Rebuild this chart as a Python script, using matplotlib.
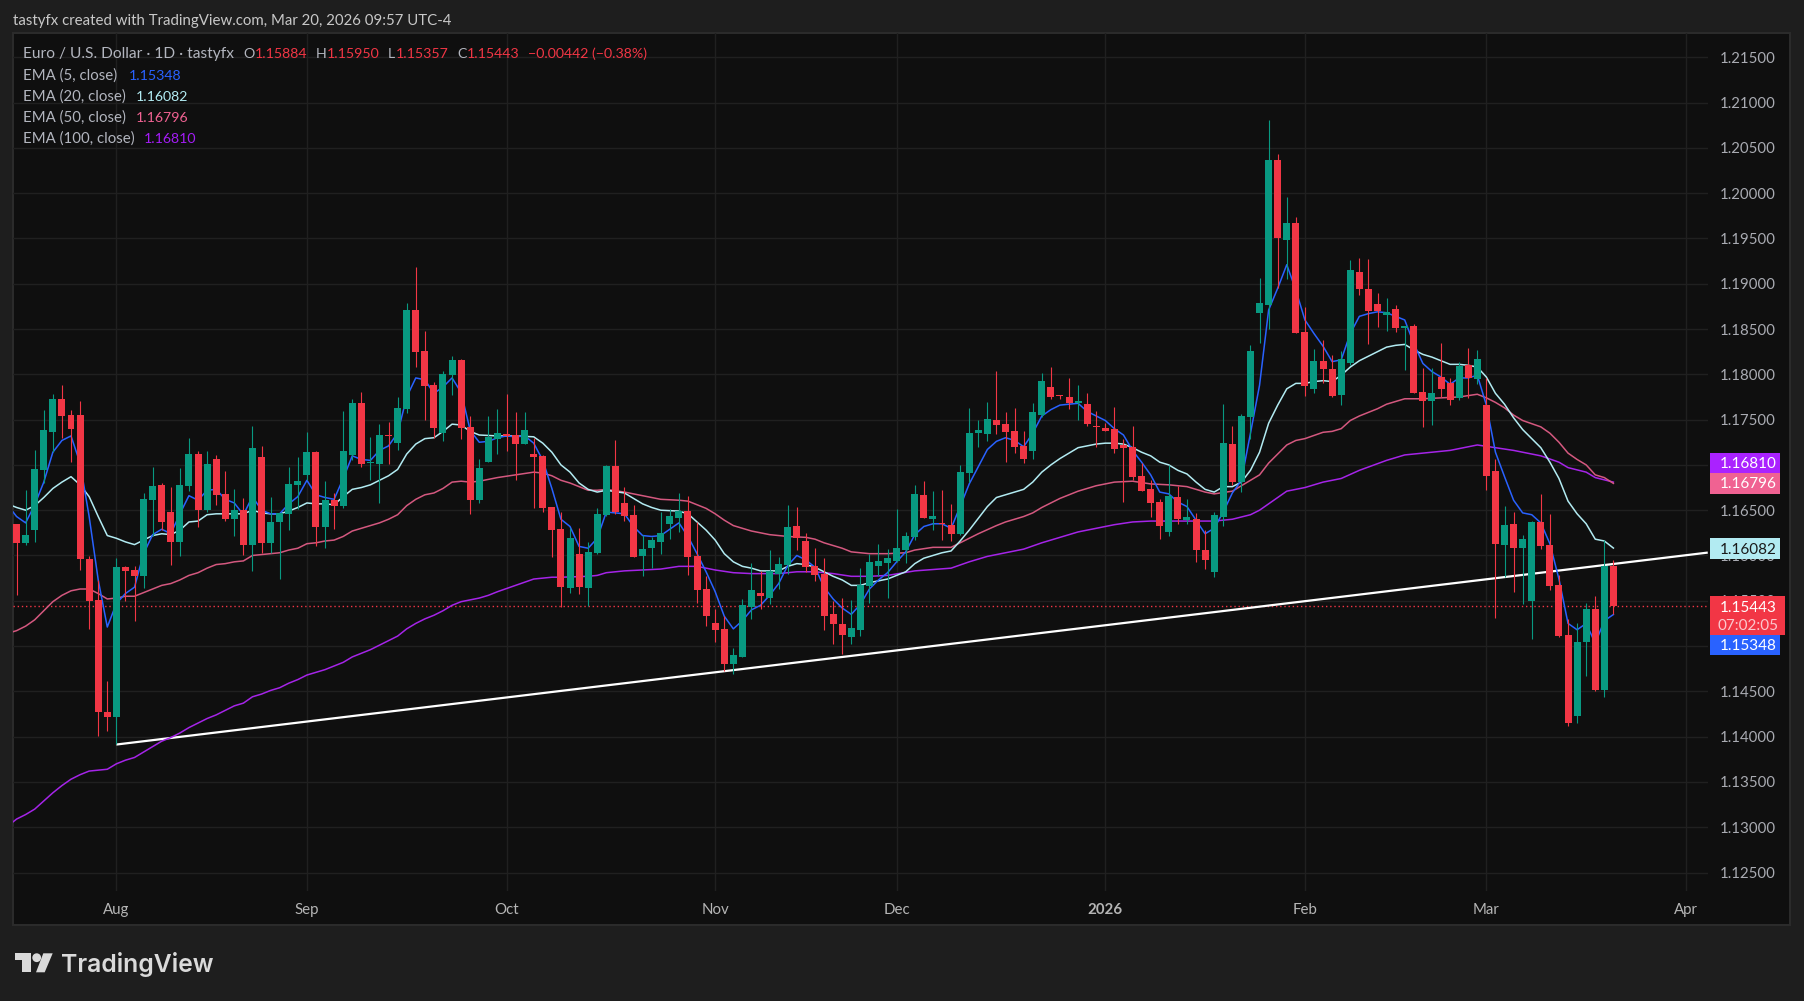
import numpy as np
import matplotlib
matplotlib.use("Agg")
import matplotlib.pyplot as plt
from matplotlib.patches import Rectangle, Polygon, Circle

W, H = 1804, 1001

BG_OUT = "#1E1E1E"
BG = "#0F0F0F"
GRID = "#202020"
UP = "#089981"
DOWN = "#F23645"
BLUE = "#2962FF"
CYAN = "#B2EBF2"
PINK = "#F06292"
PINK_LINE = "#D4587F"
PURPLE = "#AA22FF"
PURPLE_LINE = "#A524E8"
TEXT = "#B2B5BE"

opens = [
    1.16346, 1.16135, 1.16279, 1.16943, 1.17363, 1.17728, 1.17551, 1.17551, 1.15959, 1.15505,
    1.14267, 1.14212, 1.15870, 1.15837, 1.15771, 1.16611, 1.16777, 1.16478, 1.16147, 1.16766,
    1.17120, 1.16500, 1.17064, 1.16677, 1.16401, 1.16500, 1.16114, 1.17086, 1.16135, 1.16368,
    1.16456, 1.16777, 1.16887, 1.17142, 1.16312, 1.16611, 1.16545, 1.17108, 1.17683, 1.17020,
    1.17009, 1.17330, 1.17241, 1.17617, 1.18711, 1.18258, 1.17882, 1.17352, 1.17993, 1.18159,
    1.17418, 1.16611, 1.17031, 1.17285, 1.17341, 1.17330, 1.17230, 1.17120, 1.17097, 1.16534,
    1.16290, 1.15638, 1.16014, 1.15638, 1.16025, 1.16445, 1.16987, 1.16578, 1.16445, 1.15992,
    1.16080, 1.16147, 1.16346, 1.16412, 1.16489, 1.15992, 1.15627, 1.15251, 1.15185, 1.14798,
    1.14875, 1.15428, 1.15583, 1.15528, 1.15793, 1.15892, 1.16324, 1.16158, 1.15881, 1.15793,
    1.15351, 1.15240, 1.15096, 1.15174, 1.15660, 1.15881, 1.15915, 1.15937, 1.16058, 1.16202,
    1.16666, 1.16401, 1.16357, 1.16335, 1.16235, 1.16909, 1.17352, 1.17341, 1.17495, 1.17451,
    1.17374, 1.17208, 1.17153, 1.17551, 1.17860, 1.17772, 1.17750, 1.17683, 1.17672, 1.17429,
    1.17407, 1.17396, 1.17219, 1.17197, 1.16876, 1.16733, 1.16589, 1.16257, 1.16644, 1.16390,
    1.16401, 1.16058, 1.15815, 1.16423, 1.17230, 1.16810, 1.17529, 1.18678, 1.18767, 1.20370,
    1.19485, 1.19673, 1.18468, 1.17838, 1.18148, 1.18059, 1.17772, 1.18126, 1.19132, 1.18944,
    1.18778, 1.18656, 1.18723, 1.18512, 1.18535, 1.17805, 1.17705, 1.17971, 1.17904, 1.17739,
    1.18103, 1.17949, 1.17661, 1.16932, 1.16114, 1.16346, 1.16080, 1.15494, 1.16368, 1.16114,
    1.15671, 1.15119, 1.14223, 1.15041, 1.15406, 1.14511, 1.15884,
]
highs = [
    1.16353, 1.16722, 1.17164, 1.17602, 1.17783, 1.17882, 1.17606, 1.17705, 1.15992, 1.15727,
    1.14610, 1.15970, 1.15881, 1.15881, 1.16688, 1.16976, 1.16799, 1.16755, 1.16965, 1.17296,
    1.17153, 1.17153, 1.17108, 1.16932, 1.16733, 1.16633, 1.17429, 1.17208, 1.16644, 1.16464,
    1.16976, 1.17086, 1.17363, 1.17153, 1.16821, 1.16688, 1.17595, 1.17728, 1.17805, 1.17307,
    1.17451, 1.17473, 1.17750, 1.18789, 1.19187, 1.18479, 1.17915, 1.18037, 1.18203, 1.18170,
    1.17540, 1.17064, 1.17540, 1.17617, 1.17783, 1.17584, 1.17584, 1.17296, 1.17108, 1.16534,
    1.16478, 1.16301, 1.16301, 1.16147, 1.16523, 1.16998, 1.17274, 1.16755, 1.16556, 1.16224,
    1.16202, 1.16478, 1.16511, 1.16688, 1.16655, 1.16368, 1.15771, 1.15406, 1.15329, 1.14975,
    1.15517, 1.15915, 1.15826, 1.16058, 1.15981, 1.16556, 1.16534, 1.16246, 1.16080, 1.15970,
    1.15494, 1.15528, 1.15505, 1.15859, 1.16014, 1.16125, 1.16069, 1.16511, 1.16257, 1.16777,
    1.16821, 1.16710, 1.16722, 1.16567, 1.16998, 1.17628, 1.17495, 1.17694, 1.18037, 1.17584,
    1.17628, 1.17374, 1.17683, 1.18015, 1.18081, 1.17772, 1.17960, 1.17882, 1.17794, 1.17595,
    1.17462, 1.17639, 1.17285, 1.17429, 1.17020, 1.16832, 1.16622, 1.16998, 1.16766, 1.16622,
    1.16467, 1.16279, 1.16478, 1.17672, 1.17429, 1.17562, 1.18325, 1.19065, 1.20812, 1.20436,
    1.19961, 1.19740, 1.18745, 1.18280, 1.18380, 1.18214, 1.18258, 1.19264, 1.19286, 1.19275,
    1.18899, 1.18844, 1.18767, 1.18535, 1.18557, 1.18070, 1.18070, 1.18347, 1.17960, 1.18137,
    1.18291, 1.18269, 1.17963, 1.17064, 1.16545, 1.16478, 1.16224, 1.16379, 1.16677, 1.16456,
    1.15782, 1.15295, 1.15251, 1.15472, 1.15550, 1.16169, 1.15950,
]
lows = [
    1.15561, 1.16114, 1.16147, 1.16795, 1.17145, 1.17293, 1.17031, 1.15837, 1.15185, 1.14002,
    1.14057, 1.13921, 1.15494, 1.15273, 1.15638, 1.16213, 1.16279, 1.15892, 1.15992, 1.16710,
    1.16312, 1.16478, 1.16556, 1.16379, 1.16213, 1.16003, 1.15826, 1.16025, 1.16025, 1.15738,
    1.16279, 1.16511, 1.16832, 1.16102, 1.16080, 1.16290, 1.16523, 1.17053, 1.16976, 1.16832,
    1.16578, 1.17009, 1.17164, 1.17573, 1.18081, 1.17495, 1.17296, 1.17263, 1.17772, 1.17285,
    1.16456, 1.16578, 1.17031, 1.17120, 1.17153, 1.16832, 1.17230, 1.16523, 1.16478, 1.15981,
    1.15428, 1.15583, 1.15572, 1.15439, 1.16014, 1.16434, 1.16456, 1.16379, 1.15981, 1.15771,
    1.15859, 1.16014, 1.16180, 1.16257, 1.15782, 1.15472, 1.15218, 1.15041, 1.14721, 1.14687,
    1.14875, 1.15295, 1.15406, 1.15461, 1.15627, 1.15793, 1.16058, 1.15815, 1.15716, 1.15174,
    1.15019, 1.14909, 1.15019, 1.15108, 1.15472, 1.15771, 1.15528, 1.15926, 1.15915, 1.16169,
    1.16412, 1.16279, 1.16169, 1.16158, 1.16224, 1.16810, 1.17197, 1.17263, 1.17341, 1.17031,
    1.17131, 1.17020, 1.17064, 1.17529, 1.17728, 1.17728, 1.17617, 1.17495, 1.17429, 1.17197,
    1.17374, 1.17131, 1.16589, 1.16832, 1.16710, 1.16423, 1.16180, 1.16213, 1.16346, 1.16346,
    1.15926, 1.15848, 1.15760, 1.16324, 1.16777, 1.16699, 1.17285, 1.18347, 1.18501, 1.18955,
    1.19054, 1.18457, 1.17761, 1.17794, 1.17904, 1.17750, 1.17661, 1.18103, 1.18877, 1.18336,
    1.18524, 1.18479, 1.18468, 1.18048, 1.17794, 1.17418, 1.17440, 1.17750, 1.17661, 1.17716,
    1.17739, 1.17893, 1.16722, 1.15307, 1.15760, 1.15594, 1.15461, 1.15074, 1.16069, 1.15616,
    1.15096, 1.14113, 1.14146, 1.14665, 1.14499, 1.14433, 1.15357,
]
closes = [
    1.16135, 1.16224, 1.16954, 1.17385, 1.17728, 1.17540, 1.17396, 1.15959, 1.15494, 1.14267,
    1.14212, 1.15870, 1.15826, 1.15771, 1.16622, 1.16766, 1.16368, 1.16147, 1.16777, 1.17120,
    1.16500, 1.17009, 1.16666, 1.16401, 1.16500, 1.16114, 1.17186, 1.16135, 1.16368, 1.16464,
    1.16788, 1.16821, 1.17142, 1.16312, 1.16611, 1.16545, 1.17153, 1.17683, 1.17009, 1.17031,
    1.17330, 1.17319, 1.17628, 1.18711, 1.18247, 1.17871, 1.17407, 1.18004, 1.18159, 1.17407,
    1.16611, 1.16965, 1.17307, 1.17352, 1.17319, 1.17230, 1.17385, 1.17086, 1.16523, 1.16279,
    1.15649, 1.16191, 1.15649, 1.16036, 1.16456, 1.16987, 1.16478, 1.16434, 1.15981, 1.16069,
    1.16169, 1.16246, 1.16434, 1.16489, 1.15981, 1.15616, 1.15329, 1.15174, 1.14798, 1.14897,
    1.15450, 1.15616, 1.15550, 1.15826, 1.15903, 1.16312, 1.16191, 1.15870, 1.15782, 1.15329,
    1.15240, 1.15119, 1.15196, 1.15671, 1.15926, 1.15937, 1.15970, 1.16080, 1.16213, 1.16677,
    1.16412, 1.16434, 1.16346, 1.16235, 1.16921, 1.17352, 1.17385, 1.17506, 1.17440, 1.17363,
    1.17197, 1.17064, 1.17584, 1.17927, 1.17750, 1.17761, 1.17683, 1.17705, 1.17451, 1.17418,
    1.17374, 1.17175, 1.17186, 1.16865, 1.16710, 1.16578, 1.16324, 1.16655, 1.16401, 1.16423,
    1.16058, 1.15948, 1.16445, 1.17241, 1.16810, 1.17540, 1.18258, 1.18789, 1.20370, 1.19507,
    1.19673, 1.18457, 1.17871, 1.18148, 1.18059, 1.17761, 1.18170, 1.19154, 1.18944, 1.18700,
    1.18700, 1.18689, 1.18512, 1.18535, 1.17794, 1.17705, 1.17794, 1.17838, 1.17716, 1.18092,
    1.17960, 1.18170, 1.16876, 1.16125, 1.16335, 1.16080, 1.16180, 1.16368, 1.16102, 1.15660,
    1.15108, 1.14146, 1.15041, 1.15406, 1.14511, 1.15881, 1.15443,
]

# first candle sits 11 sessions before the Aug tick
first_idx = -11

ema5 = [
    1.1656, 1.1643, 1.1636, 1.1656, 1.1681, 1.1714, 1.1727, 1.1732, 1.1702, 1.1643,
    1.1573, 1.1521, 1.1547, 1.1558, 1.1565, 1.1602, 1.1623, 1.1629, 1.1624, 1.1646,
    1.1666, 1.1661, 1.1672, 1.1673, 1.1662, 1.1658, 1.1645, 1.1665, 1.1650, 1.1646,
    1.1646, 1.1657, 1.1665, 1.1683, 1.1667, 1.1664, 1.1662, 1.1685, 1.1710, 1.1706,
    1.1705, 1.1716, 1.1721, 1.1735, 1.1775, 1.1796, 1.1794, 1.1779, 1.1786, 1.1796,
    1.1780, 1.1738, 1.1725, 1.1726, 1.1730, 1.1732, 1.1731, 1.1732, 1.1724, 1.1705,
    1.1674, 1.1640, 1.1632, 1.1610, 1.1608, 1.1619, 1.1648, 1.1647, 1.1646, 1.1632,
    1.1622, 1.1621, 1.1622, 1.1629, 1.1636, 1.1621, 1.1602, 1.1582, 1.1560, 1.1533,
    1.1519, 1.1528, 1.1540, 1.1545, 1.1556, 1.1569, 1.1589, 1.1600, 1.1595, 1.1587,
    1.1565, 1.1552, 1.1542, 1.1535, 1.1546, 1.1563, 1.1573, 1.1581, 1.1593, 1.1604,
    1.1623, 1.1632, 1.1635, 1.1635, 1.1630, 1.1654, 1.1679, 1.1698, 1.1717, 1.1726,
    1.1730, 1.1727, 1.1720, 1.1735, 1.1754, 1.1761, 1.1766, 1.1767, 1.1768, 1.1759,
    1.1754, 1.1749, 1.1740, 1.1733, 1.1716, 1.1703, 1.1689, 1.1670, 1.1668, 1.1659,
    1.1654, 1.1639, 1.1624, 1.1630, 1.1648, 1.1669, 1.1683, 1.1735, 1.1788, 1.1871,
    1.1895, 1.1921, 1.1893, 1.1860, 1.1845, 1.1831, 1.1814, 1.1816, 1.1845, 1.1864,
    1.1867, 1.1869, 1.1868, 1.1864, 1.1860, 1.1834, 1.1812, 1.1803, 1.1797, 1.1789,
    1.1796, 1.1796, 1.1799, 1.1766, 1.1714, 1.1687, 1.1661, 1.1647, 1.1645, 1.1636,
    1.1613, 1.1574, 1.1525, 1.1518, 1.1525, 1.1503, 1.1528, 1.15348,
]
ema5_idx = list(range(-12, 166))

ema20_idx = [
    -12, -11, -10, -9, -8, -7, -6, -5, -4, -3, -2, -1, 0, 1, 2, 3, 4, 5, 6, 7, 8, 9, 10, 11, 12, 13, 14, 15, 16, 17,
    18, 19, 20, 21, 22, 23, 24, 25, 26, 27, 28, 29, 30, 31, 32, 33, 34, 35, 36, 37, 38, 39, 40, 42, 44, 46, 47, 48,
    49, 50, 51, 52, 53, 54, 56, 57, 58, 59, 60, 62, 63, 64, 65, 66, 67, 68, 69, 70, 71, 73, 74, 75, 76, 77, 78, 79,
    80, 81, 82, 83, 84, 85, 86, 87, 88, 89, 90, 91, 92, 93, 94, 95, 96, 97, 99, 100, 101, 102, 103, 104, 105, 106,
    107, 108, 109, 110, 111, 112, 113, 114, 115, 116, 117, 118, 119, 120, 121, 122, 123, 124, 125, 126, 127, 128,
    129, 130, 131, 132, 133, 134, 135, 136, 137, 138, 139, 140, 141, 142, 143, 144, 145, 146, 147, 148, 149, 150,
    151, 152, 153, 154, 155, 156, 157, 158, 159, 160, 161, 162, 163, 164, 165,
]
ema20 = [
    1.1657, 1.1653, 1.1650, 1.1655, 1.1664, 1.1674, 1.1681, 1.1687, 1.1678, 1.1665, 1.1643, 1.1622, 1.1619, 1.1615,
    1.1612, 1.1617, 1.1622, 1.1624, 1.1623, 1.1628, 1.1637, 1.1638, 1.1645, 1.1646, 1.1646, 1.1646, 1.1646, 1.1650,
    1.1647, 1.1646, 1.1646, 1.1649, 1.1653, 1.1658, 1.1657, 1.1657, 1.1656, 1.1665, 1.1673, 1.1675, 1.1678, 1.1683,
    1.1688, 1.1695, 1.1712, 1.1723, 1.1729, 1.1730, 1.1737, 1.1745, 1.1744, 1.1737, 1.1733, 1.1732, 1.1732, 1.1731,
    1.1724, 1.1714, 1.1700, 1.1692, 1.1680, 1.1673, 1.1670, 1.1672, 1.1669, 1.1663, 1.1657, 1.1653, 1.1650, 1.1649,
    1.1646, 1.1637, 1.1628, 1.1617, 1.1602, 1.1593, 1.1588, 1.1586, 1.1583, 1.1583, 1.1588, 1.1591, 1.1590, 1.1587,
    1.1582, 1.1577, 1.1573, 1.1567, 1.1567, 1.1570, 1.1572, 1.1574, 1.1578, 1.1582, 1.1591, 1.1597, 1.1600, 1.1603,
    1.1605, 1.1616, 1.1628, 1.1641, 1.1654, 1.1664, 1.1670, 1.1673, 1.1681, 1.1692, 1.1700, 1.1707, 1.1713, 1.1719,
    1.1721, 1.1723, 1.1724, 1.1724, 1.1723, 1.1719, 1.1714, 1.1710, 1.1703, 1.1700, 1.1694, 1.1690, 1.1681, 1.1673,
    1.1670, 1.1676, 1.1676, 1.1681, 1.1694, 1.1714, 1.1746, 1.1766, 1.1784, 1.1790, 1.1790, 1.1792, 1.1793, 1.1792,
    1.1799, 1.1808, 1.1815, 1.1820, 1.1825, 1.1830, 1.1832, 1.1833, 1.1827, 1.1822, 1.1819, 1.1815, 1.1811, 1.1811,
    1.1810, 1.1808, 1.1797, 1.1779, 1.1767, 1.1752, 1.1739, 1.1729, 1.1719, 1.1703, 1.1685, 1.1660, 1.1646, 1.1635,
    1.1618, 1.1616, 1.16082,
]

ema50_idx = [
    -12, -11, -10, -9, -8, -7, -6, -5, -4, -3, -2, -1, 0, 1, 2, 3, 4, 5, 6, 7, 8, 9, 10, 11, 12, 13, 14, 15, 16, 17,
    18, 19, 20, 21, 22, 23, 24, 25, 26, 27, 28, 29, 30, 31, 32, 33, 34, 35, 36, 37, 38, 39, 40, 42, 44, 46, 47, 48,
    49, 50, 51, 52, 53, 54, 56, 58, 60, 62, 63, 64, 65, 66, 67, 68, 69, 70, 71, 72, 74, 76, 77, 78, 79, 80, 81, 83,
    85, 87, 88, 90, 92, 93, 95, 97, 98, 100, 101, 102, 104, 106, 108, 110, 112, 114, 116, 118, 120, 121, 123, 125,
    126, 127, 129, 130, 131, 133, 134, 135, 136, 137, 139, 140, 142, 144, 146, 148, 150, 151, 152, 153, 154, 155,
    157, 158, 159, 160, 161, 162, 163, 164, 165,
]
ema50 = [
    1.1514, 1.1517, 1.1522, 1.1529, 1.1539, 1.1549, 1.1556, 1.1561, 1.1563, 1.1563, 1.1558, 1.1552, 1.1553, 1.1555,
    1.1555, 1.1559, 1.1563, 1.1567, 1.1569, 1.1573, 1.1578, 1.1581, 1.1586, 1.1590, 1.1591, 1.1593, 1.1594, 1.1600,
    1.1601, 1.1602, 1.1603, 1.1606, 1.1608, 1.1613, 1.1614, 1.1616, 1.1617, 1.1621, 1.1627, 1.1630, 1.1633, 1.1636,
    1.1640, 1.1645, 1.1655, 1.1662, 1.1667, 1.1669, 1.1674, 1.1681, 1.1682, 1.1681, 1.1682, 1.1686, 1.1689, 1.1692,
    1.1691, 1.1688, 1.1683, 1.1680, 1.1676, 1.1672, 1.1672, 1.1673, 1.1670, 1.1666, 1.1662, 1.1661, 1.1660, 1.1656,
    1.1652, 1.1646, 1.1639, 1.1633, 1.1630, 1.1627, 1.1625, 1.1623, 1.1621, 1.1620, 1.1618, 1.1614, 1.1611, 1.1608,
    1.1604, 1.1602, 1.1602, 1.1603, 1.1606, 1.1609, 1.1609, 1.1614, 1.1624, 1.1633, 1.1637, 1.1643, 1.1647, 1.1653,
    1.1663, 1.1671, 1.1677, 1.1681, 1.1682, 1.1679, 1.1678, 1.1676, 1.1670, 1.1668, 1.1671, 1.1683, 1.1689, 1.1702,
    1.1722, 1.1727, 1.1729, 1.1736, 1.1737, 1.1740, 1.1749, 1.1754, 1.1762, 1.1767, 1.1773, 1.1773, 1.1774, 1.1775,
    1.1778, 1.1774, 1.1769, 1.1763, 1.1755, 1.1749, 1.1742, 1.1735, 1.1725, 1.1713, 1.1706, 1.1700, 1.1689, 1.1686,
    1.16796,
]

ema100_idx = [
    -12, -11, -10, -9, -8, -7, -6, -5, -4, -3, -2, -1, 0, 1, 2, 3, 4, 5, 6, 7, 8, 9, 10, 11, 12, 13, 14, 15, 16, 17,
    18, 19, 20, 21, 22, 23, 24, 25, 26, 27, 28, 29, 30, 31, 32, 33, 34, 35, 36, 37, 38, 39, 40, 41, 42, 44, 46, 48,
    49, 52, 53, 54, 56, 58, 60, 62, 64, 66, 68, 70, 73, 75, 77, 79, 81, 83, 85, 88, 92, 94, 96, 98, 100, 102, 104,
    106, 108, 110, 112, 114, 116, 118, 120, 121, 123, 125, 126, 127, 128, 129, 131, 133, 135, 137, 140, 142, 145,
    147, 150, 152, 154, 157, 159, 160, 162, 163, 165,
]
ema100 = [
    1.1301, 1.1309, 1.1314, 1.1320, 1.1329, 1.1338, 1.1346, 1.1353, 1.1358, 1.1362, 1.1363, 1.1364, 1.1370, 1.1374,
    1.1377, 1.1383, 1.1389, 1.1395, 1.1399, 1.1404, 1.1410, 1.1415, 1.1420, 1.1424, 1.1429, 1.1434, 1.1437, 1.1444,
    1.1447, 1.1451, 1.1454, 1.1459, 1.1463, 1.1468, 1.1471, 1.1474, 1.1478, 1.1482, 1.1488, 1.1492, 1.1496, 1.1501,
    1.1506, 1.1511, 1.1519, 1.1525, 1.1530, 1.1534, 1.1539, 1.1545, 1.1549, 1.1551, 1.1553, 1.1556, 1.1560, 1.1567,
    1.1574, 1.1576, 1.1576, 1.1577, 1.1578, 1.1581, 1.1583, 1.1584, 1.1585, 1.1588, 1.1588, 1.1584, 1.1581, 1.1580,
    1.1580, 1.1582, 1.1582, 1.1580, 1.1577, 1.1577, 1.1578, 1.1583, 1.1586, 1.1593, 1.1599, 1.1603, 1.1607, 1.1614,
    1.1620, 1.1626, 1.1630, 1.1634, 1.1637, 1.1638, 1.1638, 1.1638, 1.1638, 1.1638, 1.1640, 1.1645, 1.1650, 1.1657,
    1.1664, 1.1671, 1.1675, 1.1681, 1.1685, 1.1694, 1.1705, 1.1711, 1.1714, 1.1716, 1.1722, 1.1719, 1.1716, 1.1710,
    1.1703, 1.1697, 1.1692, 1.1686, 1.16810,
]

trend_idx = [0, 175.4]
trend = [1.13913, 1.16032]

last_close = 1.15443

price_ticks = [1.125, 1.13, 1.135, 1.14, 1.145, 1.15, 1.155, 1.16, 1.165, 1.17, 1.175,
               1.18, 1.185, 1.19, 1.195, 1.20, 1.205, 1.21, 1.215]
month_idx = [0, 21, 43, 66, 86, 109, 131, 151, 173]
month_labels = ["Aug", "Sep", "Oct", "Nov", "Dec", "2026", "Feb", "Mar", "Apr"]


def frac_rect(x0, y0, x1, y1):
    return [x0 / W, 1 - y1 / H, (x1 - x0) / W, (y1 - y0) / H]


def badge(ax, x0, y0, x1, y1, color):
    ax.add_patch(Rectangle((x0, y0), x1 - x0, y1 - y0, facecolor=color, edgecolor="none"))


plt.rcParams["font.family"] = ["Lato", "DejaVu Sans"]
fig = plt.figure(figsize=(W / 100, H / 100), dpi=100, facecolor=BG_OUT)

# background panel, in pixels
bg = fig.add_axes([0, 0, 1, 1], zorder=0)
bg.set_xlim(0, W)
bg.set_ylim(H, 0)
bg.axis("off")
bg.add_patch(Rectangle((13, 33), 1777, 892, facecolor=BG, edgecolor="#2C2C2C", linewidth=1.4))

# chart pane
ax = fig.add_axes(frac_rect(13.3, 33, 1708.3, 891), zorder=1)
ax.patch.set_alpha(0)
ax.set_xlim(-11.36, 175.46)
ax.set_ylim(1.12296, 1.21768)
for s in ax.spines.values():
    s.set_visible(False)
ax.set_axisbelow(True)
ax.grid(True, color=GRID, linewidth=1.0)
ax.yaxis.tick_right()
ax.set_yticks(price_ticks)
ax.set_yticklabels(["%.5f" % p for p in price_ticks], fontsize=10.8, color="#A9ABB2")
ax.set_xticks(month_idx)
ax.set_xticklabels(month_labels, fontsize=10.8, color="#B5B5B5")
ax.get_xticklabels()[5].set_fontweight("bold")
ax.tick_params(axis="y", length=0, pad=8.5)
ax.tick_params(axis="x", length=0, pad=8.5)

ax.axhline(last_close, color=DOWN, linewidth=1.0, linestyle=(0, (1, 2)), zorder=1.5)

ax.plot(trend_idx, trend, color="white", linewidth=1.6, zorder=2, solid_capstyle="butt")
ax.plot(ema100_idx, ema100, color=PURPLE_LINE, linewidth=1.1, zorder=2.1)
ax.plot(ema50_idx, ema50, color=PINK_LINE, linewidth=1.1, zorder=2.2)
ax.plot(ema20_idx, ema20, color=CYAN, linewidth=1.1, zorder=2.3)
ax.plot(ema5_idx, ema5, color=BLUE, linewidth=1.1, zorder=2.4)

o = np.array(opens)
h = np.array(highs)
l = np.array(lows)
c = np.array(closes)
x = np.arange(first_idx, first_idx + len(o))
colors = [UP if cc >= oo else DOWN for oo, cc in zip(o, c)]
ax.vlines(x, l, h, colors=colors, linewidth=0.8, zorder=3)
ax.bar(x, np.abs(c - o), bottom=np.minimum(o, c), width=0.77, color=colors, linewidth=0, zorder=3.1)

# texts, badges and logo on top, in pixels
fg = fig.add_axes([0, 0, 1, 1], zorder=2)
fg.patch.set_alpha(0)
fg.set_xlim(0, W)
fg.set_ylim(H, 0)
fg.axis("off")

fg.text(13, 21, "tastyfx created with TradingView.com, Mar 20, 2026 09:57 UTC-4",
        fontsize=10.8, color="#C8C8C8", va="center")

fg.text(23, 54, "Euro / U.S. Dollar · 1D · tastyfx", fontsize=11.2, color=TEXT, va="center")
for tx, s, col in [(243, "O", TEXT), (255, "1.15884", DOWN), (316, "H", TEXT), (327, "1.15950", DOWN),
                   (387.5, "L", TEXT), (395.5, "1.15357", DOWN), (457, "C", TEXT), (466.5, "1.15443", DOWN),
                   (528, "−0.00442 (−0.38%)", DOWN)]:
    fg.text(tx, 54, s, fontsize=10.2, color=col, va="center")

for ty, name, vx, val, col in [(76, "EMA (5, close)", 128.6, "1.15348", BLUE),
                               (97, "EMA (20, close)", 135.7, "1.16082", CYAN),
                               (118, "EMA (50, close)", 135.7, "1.16796", PINK),
                               (139, "EMA (100, close)", 144, "1.16810", "#A31CF5")]:
    fg.text(23, ty, name, fontsize=10.8, color=TEXT, va="center")
    fg.text(vx, ty, val, fontsize=10.2, color=col, va="center")

badge(fg, 1710, 452.5, 1780, 472.7, PURPLE)
fg.text(1748, 463.5, "1.16810", fontsize=11, color="white", ha="center", va="center")
badge(fg, 1710, 472.7, 1780, 493.7, PINK)
fg.text(1748, 484.5, "1.16796", fontsize=11, color="white", ha="center", va="center")
badge(fg, 1710, 538, 1780, 558.7, CYAN)
fg.text(1748, 549.5, "1.16082", fontsize=11, color="#1A1A1A", ha="center", va="center")
badge(fg, 1710, 596, 1785, 635, DOWN)
fg.text(1748, 607.5, "1.15443", fontsize=11, color="white", ha="center", va="center")
fg.text(1748, 626, "07:02:05", fontsize=11, color="#FBC8CE", ha="center", va="center")
badge(fg, 1710, 635, 1780, 654.5, BLUE)
fg.text(1748, 646, "1.15348", fontsize=11, color="white", ha="center", va="center")

# TradingView mark
logo = "#DADADA"
fg.add_patch(Polygon([(15.3, 953.3), (30.7, 953.3), (30.7, 972.3), (22, 972.3), (22, 960), (15.3, 960)],
                     closed=True, facecolor=logo, edgecolor="none"))
fg.add_patch(Circle((36.7, 957.7), 4.4, facecolor=logo, edgecolor="none"))
fg.add_patch(Polygon([(43.3, 953.3), (52.7, 953.3), (44.7, 972.3), (36, 972.3)],
                     closed=True, facecolor=logo, edgecolor="none"))
fg.text(61.5, 972, "TradingView", fontsize=17.8, color=logo, va="baseline", fontweight="semibold",
        family=["Inter", "DejaVu Sans"])

fig.savefig("out.png", dpi=100, facecolor=BG_OUT)
plt.close(fig)
